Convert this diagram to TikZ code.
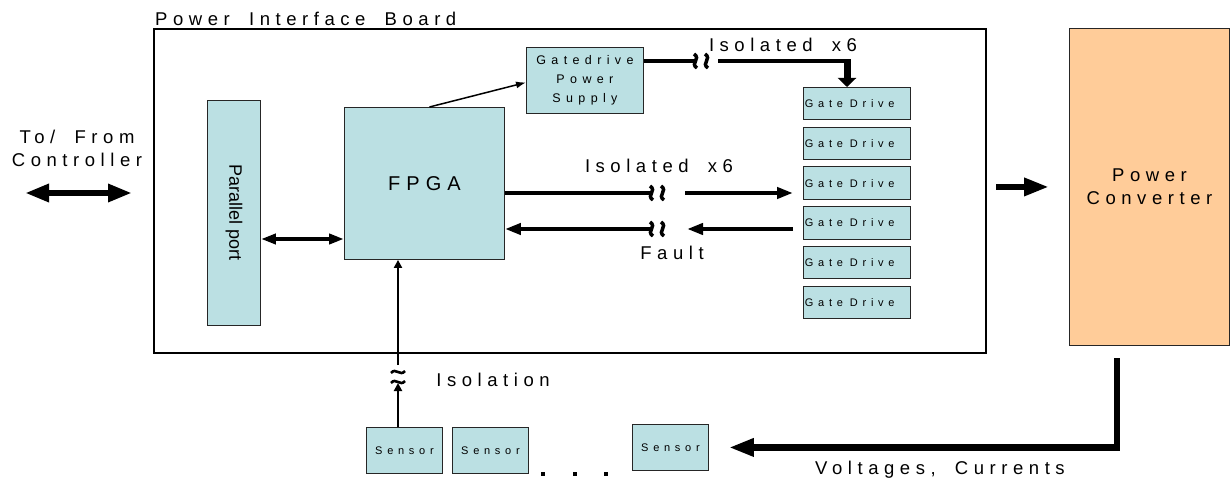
\documentclass[tikz,border=0pt]{standalone}
\usepackage{fontspec}
\setmainfont{Liberation Sans}
\newfontfamily\widefont[LetterSpace=30, WordSpace=1.8]{Liberation Sans}
\newfontfamily\smallwide[LetterSpace=43, WordSpace=2.5]{Liberation Sans}
\usetikzlibrary{arrows.meta}
\definecolor{chipblue}{RGB}{187,224,227}
\definecolor{convpeach}{RGB}{255,204,153}

\begin{document}
\begin{tikzpicture}[x=1pt,y=-1pt]
\tikzstyle{blk} = [draw=black!85, line width=0.9pt, fill=chipblue, inner sep=0pt, anchor=north west, align=center, font=\widefont\fontsize{18.5}{23}\selectfont]
\tikzstyle{gate} = [blk, minimum width=107, minimum height=32.5, text width=104, align=left, font=\smallwide\fontsize{11}{13}\selectfont]
\tikzstyle{sensor} = [blk, minimum width=76, minimum height=46, font=\smallwide\fontsize{11}{13}\selectfont]
\tikzstyle{lbl} = [inner sep=0pt, align=center, font=\widefont\fontsize{18.5}{23}\selectfont]
\tikzstyle{fat} = [line width=6.5pt, -{Triangle[length=25pt,width=17pt]}]
\tikzstyle{sig} = [line width=4pt, -{Triangle[length=16pt,width=11pt]}]
\tikzset{
  breakh/.pic={\foreach \dx in {-5.5,5.5} \draw[line width=3.5pt] (\dx-1.5,-7) .. controls (\dx+6,-2) and (\dx-6,2) .. (\dx+1.5,7);},
  breakv/.pic={\foreach \dy in {-5,5} \draw[line width=2.6pt] (-7,\dy+1) .. controls (-2,\dy-5) and (2,\dy+5) .. (7,\dy-1);}
}

\useasboundingbox (0,0) rectangle (1231,481);

% board and blocks
\node[draw, line width=2pt, minimum width=832, minimum height=324, anchor=north west, inner sep=0pt] (board) at (153,28) {};
\node[lbl, anchor=base west] (boardname) at (155,26) {Power Interface Board};

\node[blk, minimum width=53, minimum height=225] (port) at (207,100) {};
\node[rotate=-90, inner sep=0pt, font=\fontsize{18}{20}\selectfont] (portname) at (port.center) {Parallel port};
\node[blk, minimum width=160, minimum height=152, font=\widefont\fontsize{20}{23}\selectfont] (fpga) at (344,107) {FPGA};
\node[blk, minimum width=117, minimum height=66, font=\smallwide\fontsize{12.5}{19}\selectfont] (gps) at (526,47) {Gatedrive\\Power\\Supply};

\foreach \i in {1,...,6}
  \node[gate] (gd\i) at (803,{87+39.7*(\i-1)}) {Gate\hspace{7pt}Drive};

\node[blk, fill=convpeach, minimum width=160, minimum height=317] (pc) at (1069,28) {Power\\Converter};

\node[sensor] (s1) at (366,427) {Sensor};
\node[sensor] (s2) at (452,427) {Sensor};
\node[sensor] (s3) at (632,424) {Sensor};
\foreach \x in {543,575,606}
  \fill (\x-2,472) rectangle +(4,4);

% isolation breaks
\coordinate (b1) at (701,61);
\coordinate (b2) at (657,193);
\coordinate (b3) at (657,229);
\coordinate (b4) at (398,377);
\pic at (b1) {breakh};
\pic at (b2) {breakh};
\pic at (b3) {breakh};
\pic at (b4) {breakv};

\coordinate (r1) at (718,61);
\coordinate (c1) at (847,61);
\coordinate (r2) at (685,193);
\coordinate (t2) at (793,193);
\coordinate (f0) at (793,229);
\coordinate (f1) at (687,229);
\coordinate (cl) at (25,193);
\coordinate (cr) at (132,193);
\coordinate (fb) at (1117,358);

% connectors
\draw[{Triangle[length=24pt,width=17pt]}-{Triangle[length=24pt,width=17pt]}, line width=6pt] (cl) -- (cr);
\draw[{Triangle[length=15pt,width=10pt]}-{Triangle[length=15pt,width=10pt]}, line width=4pt] (port.east |- 0,239) -- (fpga.west |- 0,239);
\draw[line width=1.5pt, -{Latex[length=10pt,width=7pt]}] ([xshift=5]fpga.north) -- ([yshift=-2]gps.west);

\draw[line width=3.5pt] (gps.east |- b1) -- ([xshift=-5]b1);
\draw[line width=3.5pt] (r1) -- (c1);
\draw[line width=7pt, -{Triangle[length=9pt,width=18pt]}] ([yshift=1.75]c1) -- (c1 |- gd1.north);

\draw[line width=4pt] (fpga.east |- b2) -- ([xshift=-5]b2);
\draw[sig] (r2) -- (t2);
\draw[sig] (f0) -- (f1);
\draw[sig] ([xshift=-5]b3) -- (fpga.east |- b3);

\draw[line width=2pt, -{Triangle[length=8pt,width=8pt]}] (b4 |- s1.north) -- ++(0,-44);
\draw[line width=2pt, -{Triangle[length=8pt,width=8pt]}] (b4) ++(0,-12) -- (fpga.south -| b4);

\draw[fat] ([xshift=9]board.east |- pc.west) -- ([xshift=-20]pc.west);
\draw[fat] (fb) |- ([xshift=20]s3.east);

% labels
\node[lbl] (ctrl) at (77,148) {To/ From\\Controller};
\node[lbl] (isotop) at (783,45) {Isolated x6};
\node[lbl] (isomid) at (659,166) {Isolated x6};
\node[lbl] (fault) at (672,253) {Fault};
\node[lbl] (isolation) at (493,380) {Isolation};
\node[lbl] (meas) at (940,470) {Voltages, Currents};

\end{tikzpicture}
\end{document}
